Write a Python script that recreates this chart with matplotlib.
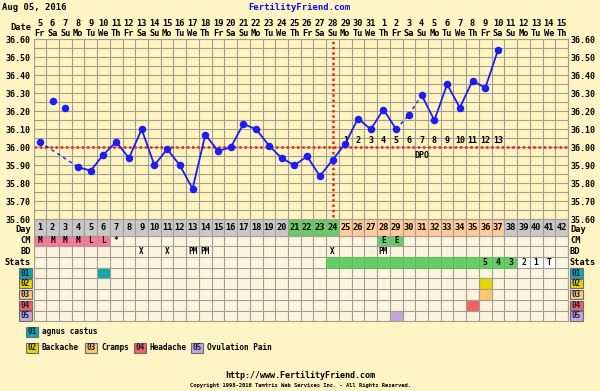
import numpy as np
import pandas as pd
import matplotlib.pyplot as plt
from matplotlib.patches import Rectangle
from matplotlib.transforms import blended_transform_factory

plt.rcParams['font.family'] = ['DejaVu Sans Mono']
plt.rcParams['font.weight'] = 'bold'
plt.rcParams['font.size'] = 6

# --- chart data ---
start_date = '2016-08-05'
cycle_days = list(range(1, 43))
temp_days = list(range(1, 38))
temps = [36.03, 36.26, 36.22, 35.89, 35.87, 35.96, 36.03, 35.94, 36.10, 35.90,
         35.99, 35.90, 35.77, 36.07, 35.98, 36.00, 36.13, 36.10, 36.01, 35.94,
         35.90, 35.95, 35.84, 35.93, 36.02, 36.16, 36.10, 36.21, 36.10, 36.18,
         36.29, 36.15, 36.35, 36.22, 36.37, 36.33, 36.54]
solid_runs = [(4, 29), (31, 37)]
dashed_pairs = [(1, 4), (29, 30), (30, 31)]
coverline = 36.00
ovulation_day = 24
dpo_days = list(range(25, 38))

fertile_days = [21, 22, 23, 24]
luteal_days = list(range(25, 38))

cm_days = [1, 2, 3, 4, 5, 6, 7, 28, 29]
cm_codes = ['M', 'M', 'M', 'M', 'L', 'L', '*', 'E', 'E']
bd_days = [9, 11, 13, 14, 24, 28]
bd_codes = ['X', 'X', 'PM', 'PM', 'X', 'PM']
stats_green = list(range(24, 39))
stats_days = [36, 37, 38, 39, 40, 41]
stats_codes = ['5', '4', '3', '2', '1', 'T']

sym_codes = ['01', '02', '03', '04', '05']
sym_names = ['agnus castus', 'Backache', 'Cramps', 'Headache', 'Ovulation Pain']
sym_colors = ['#10a8a8', '#e2d600', '#ffc870', '#f26262', '#c2a8d8']
sym_rows = [0, 1, 2, 3, 4]
sym_days = [6, 36, 36, 35, 29]

# --- colours ---
BG = '#fff4c4'
CHART_BG = '#fff4c0'
TABLE_BG = '#fdf4e0'
GRID = '#a29e96'
BLUE = '#1c1cf4'
RED = '#e82424'
GREEN = '#66cc66'
PEACH = '#ffcc99'
GREY = '#c8c8c8'
PINK = '#ff7799'

W, H = 600, 391


def box(x0, y0, x1, y1):
    return [x0 / W, 1 - y1 / H, (x1 - x0) / W, (y1 - y0) / H]


X0, X1 = 33.5, 568
Y_TOP, Y_BOT = 39.3, 219.3
DAY_BOT = 235.5
T_BOT = 321.3
row_h = (T_BOT - DAY_BOT) / 8
row_edges = [Y_BOT, DAY_BOT] + [DAY_BOT + row_h * k for k in range(1, 9)]

fig = plt.figure(figsize=(6, 3.91), dpi=100, facecolor=BG)

# overlay in pixel units for labels
ov = fig.add_axes([0, 0, 1, 1], zorder=0)
ov.set_xlim(0, W)
ov.set_ylim(H, 0)
ov.axis('off')

# --- temperature chart ---
ax = fig.add_axes(box(X0, Y_TOP, X1, Y_BOT), zorder=2)
ax.set_xlim(0.5, 42.5)
ax.set_ylim(35.6, 36.6)
ax.set_facecolor(CHART_BG)
ax.set_xticks([])
ax.set_xticks(np.arange(0.5, 43), minor=True)
ax.set_yticks(np.round(np.arange(35.6, 36.61, 0.1), 2))
ax.set_yticks(np.arange(35.6, 36.61, 0.05), minor=True)
ax.yaxis.set_major_formatter(lambda v, p: f'{v:.2f}')
ax.tick_params(which='both', length=0, labelsize=6, labelright=True, pad=1.8)
ax.grid(which='both', color=GRID, lw=0.8)
ax.set_axisbelow(True)
for s in ax.spines.values():
    s.set_color(GRID)

days = np.array(temp_days)
t = np.array(temps)
ax.axhline(coverline, color=RED, lw=1.8, ls=(0, (1, 1.1)), zorder=2)
ax.axvline(ovulation_day, color=RED, lw=1.8, ls=(0, (1, 1.1)), ymin=0.01, zorder=2)
for a, b in solid_runs:
    m = (days >= a) & (days <= b)
    ax.plot(days[m], t[m], color=BLUE, lw=1.3, zorder=3)
for a, b in dashed_pairs:
    ax.plot([a, b], [t[a - 1], t[b - 1]], color=BLUE, lw=1, ls=(0, (2.5, 2.5)), zorder=3)
ax.plot(days, t, 'o', color=BLUE, ms=4.4, zorder=4)

for i, d in enumerate(dpo_days, 1):
    ax.annotate(str(i), (d, coverline), xytext=(0, 2), textcoords='offset points',
                ha='center', va='bottom', fontsize=6)
ax.annotate('DPO', (31, coverline), xytext=(0, -2.5), textcoords='offset points',
            ha='center', va='top', fontsize=6)

# date header
tr = blended_transform_factory(ax.transData, ax.transAxes)
dates = pd.date_range(start_date, periods=len(cycle_days))
for d, dt in zip(cycle_days, dates):
    ax.text(d, 1.09, str(dt.day), transform=tr, ha='center', va='center', fontsize=6.2)
    ax.text(d, 1.035, dt.strftime('%a')[:2], transform=tr, ha='center', va='center', fontsize=6.2)

# --- table under the chart ---
tab = fig.add_axes(box(X0, Y_BOT, X1, T_BOT), zorder=1)
tab.set_xlim(0.5, 42.5)
tab.set_ylim(T_BOT, Y_BOT)
tab.set_facecolor(TABLE_BG)
tab.set_xticks([])
tab.set_xticks(np.arange(0.5, 43), minor=True)
tab.set_yticks(row_edges)
tab.tick_params(which='both', length=0, labelleft=False, labelbottom=False)
tab.grid(which='both', color=GRID, lw=0.8)
tab.set_axisbelow(True)
for s in tab.spines.values():
    s.set_color(GRID)


def row_span(r):
    return row_edges[r], row_edges[r + 1] - row_edges[r]


def row_mid(r):
    return (row_edges[r] + row_edges[r + 1]) / 2


day_colors = [GREEN if d in fertile_days else PEACH if d in luteal_days else GREY
              for d in cycle_days]
top, h = row_span(0)
tab.bar(cycle_days, h, bottom=top, width=1, color=day_colors, edgecolor=GRID, lw=0.8)
for d in cycle_days:
    tab.text(d, row_mid(0) + 0.5, str(d), ha='center', va='center', fontsize=6.2)

cm_colors = [GREEN if c == 'E' else TABLE_BG if c == '*' else PINK for c in cm_codes]
top, h = row_span(1)
tab.bar(cm_days, h, bottom=top, width=1, color=cm_colors, edgecolor=GRID, lw=0.8)
for d, c in zip(cm_days, cm_codes):
    tab.text(d, row_mid(1), c, ha='center', va='center', fontsize=5.5)

for d, c in zip(bd_days, bd_codes):
    tab.text(d, row_mid(2), c, ha='center', va='center', fontsize=5.5)

top, h = row_span(3)
tab.bar(stats_green, h, bottom=top, width=1, color=GREEN, edgecolor='#5cb85c', lw=0.6)
white_days = [d for d in stats_days if d not in stats_green]
tab.bar(white_days, h, bottom=top, width=1, color='white', edgecolor=GRID, lw=0.8)
for d, c in zip(stats_days, stats_codes):
    tab.text(d, row_mid(3), c, ha='center', va='center', fontsize=5.8)

for r, d in zip(sym_rows, sym_days):
    top, h = row_span(4 + r)
    tab.bar(d, h, bottom=top, width=1, color=sym_colors[r], edgecolor=GRID, lw=0.8)

# row labels on both sides
for r, name in enumerate(['Day', 'CM', 'BD', 'Stats']):
    ly = row_mid(r) + (2.2 if r == 0 else 0)
    ov.text(31, ly, name, ha='right', va='center', fontsize=6.2)
    ov.text(570, ly, name, ha='left', va='center', fontsize=6.2)
for k, code in enumerate(sym_codes):
    top, h = row_span(4 + k)
    for bx in (19, 570):
        ov.add_patch(Rectangle((bx, top + 0.8), 12.5, h - 1.6, facecolor=sym_colors[k],
                               edgecolor='#6a6a7a', lw=0.8))
        ov.text(bx + 6.25, top + h / 2, code, ha='center', va='center', fontsize=5.5,
                color='#1a1a40')

ov.text(31, 28, 'Date', ha='right', va='center', fontsize=6.2)
ov.text(2, 8, 'Aug 05, 2016', ha='left', va='center', fontsize=6.4)
ov.text(299, 8, 'FertilityFriend.com', ha='center', va='center', fontsize=6.4, color='#0a0aee')

# legend
legend_pos = [(26, 332), (26, 348), (85, 348), (134, 348), (191, 348)]
for k, (lx, ly) in enumerate(legend_pos):
    ov.add_patch(Rectangle((lx, ly - 5), 12, 10, facecolor=sym_colors[k],
                           edgecolor='#6a6a7a', lw=0.8))
    ov.text(lx + 6, ly, sym_codes[k], ha='center', va='center', fontsize=5.5, color='#1a1a40')
    ov.text(lx + 16, ly, sym_names[k], ha='left', va='center', fontsize=5.6)

ov.text(300, 376, 'http://www.FertilityFriend.com', ha='center', va='center', fontsize=6)
ov.text(300, 386, 'Copyright 1998-2016 Tamtris Web Services Inc. - All Rights Reserved.',
        ha='center', va='center', fontsize=4)

fig.savefig('out.png', dpi=100, facecolor=BG)
